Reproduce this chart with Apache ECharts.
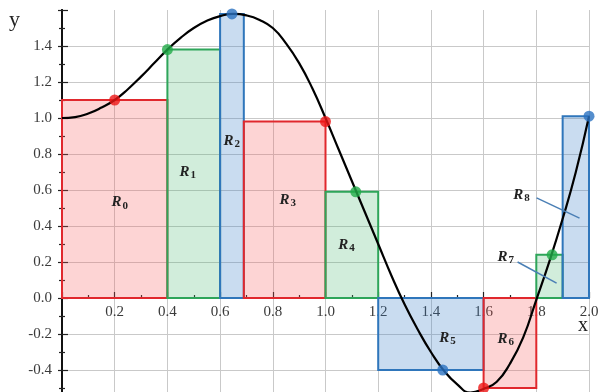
<!DOCTYPE html>
<html>
<head>
<meta charset="utf-8">
<script src="https://cdn.jsdelivr.net/npm/echarts@6/dist/echarts.min.js"></script>
<style>
  html, body { margin: 0; padding: 0; background: #ffffff; }
  #chart { width: 598px; height: 392px; }
</style>
</head>
<body>
<div id="chart"></div>
<script>
// Curve y = f(x), sampled along the interval [0, 2]
const curveX = [0.00, 0.05, 0.10, 0.15, 0.20, 0.25, 0.30, 0.35, 0.40, 0.45,
                0.50, 0.55, 0.60, 0.65, 0.70, 0.75, 0.80, 0.85, 0.90, 0.95,
                1.00, 1.05, 1.10, 1.15, 1.20, 1.25, 1.30, 1.35, 1.40, 1.45,
                1.50, 1.55, 1.60, 1.65, 1.70, 1.75, 1.80, 1.85, 1.90, 1.95, 2.00];
const curveY = [1.000, 1.005, 1.025, 1.058, 1.100, 1.160, 1.230, 1.305, 1.380, 1.445,
                1.500, 1.540, 1.566, 1.578, 1.570, 1.545, 1.500, 1.415, 1.305, 1.165,
                1.000, 0.825, 0.650, 0.475, 0.300, 0.125, -0.035, -0.175, -0.300, -0.405,
                -0.480, -0.525, -0.505, -0.465, -0.365, -0.220, -0.010, 0.205, 0.440, 0.700, 1.010];

// Partition of [0, 2] into nine sub-intervals
const partitionEdges = [0, 0.4, 0.6, 0.69, 1.0, 1.2, 1.6, 1.8, 1.9, 2.0];
// Sample point chosen in each sub-interval and f at that point
const sampleX = [0.20, 0.40, 0.645, 1.00, 1.115, 1.445, 1.60, 1.86, 2.00];
const sampleY = [1.10, 1.38, 1.578, 0.98, 0.59, -0.40, -0.50, 0.24, 1.01];
const rectIndex = ['0', '1', '2', '3', '4', '5', '6', '7', '8'];

// Axis tick labels
const xTickLabels = ['0.2', '0.4', '0.6', '0.8', '1.0', '1.2', '1.4', '1.6', '1.8', '2.0'];
const yTickLabels = ['-0.4', '-0.2', '0.0', '0.2', '0.4', '0.6', '0.8', '1.0', '1.2', '1.4'];

// Styling
const palette = [
  { stroke: '#e0282d', fill: 'rgba(248,90,90,0.26)', dot: '#ee1515' },
  { stroke: '#2ea55a', fill: 'rgba(70,185,110,0.25)', dot: '#22ab48' },
  { stroke: '#2f76bb', fill: 'rgba(60,130,200,0.28)', dot: '#2a72c0' }
];
// Where each R_i label sits (data coordinates)
const labelAnchors = [
  [0.219, 0.53], [0.477, 0.70], [0.644, 0.872], [0.857, 0.545], [1.08, 0.295],
  [1.463, -0.222], [1.684, -0.228], [1.684, 0.228], [1.744, 0.572]
];
// Pointer arrows for the two narrow rectangles
const arrowLines = [
  [[1.729, 0.20], [1.877, 0.083]],
  [[1.801, 0.556], [1.964, 0.444]]
];

const serif = '"Liberation Serif", "DejaVu Serif", serif';

const rectData = sampleY.map((h, i) => [partitionEdges[i], partitionEdges[i + 1], h, i]);
const curveData = curveX.map((x, i) => [x, curveY[i]]);
const pointData = sampleX.map((x, i) => ({
  value: [x, sampleY[i]],
  itemStyle: { color: palette[i % 3].dot }
}));
const labelData = labelAnchors.map((p, i) => [p[0], p[1], i]);

const chart = echarts.init(document.getElementById('chart'), null, { renderer: 'canvas' });

const gridBox = { left: 62, right: 9, top: 10, bottom: -14 };

const yAxisBase = {
  type: 'value',
  min: -0.6,
  max: 1.6,
  interval: 0.2,
  position: 'left',
  axisLine: { show: true, onZero: false, lineStyle: { color: '#111', width: 2 } }
};

chart.setOption({
  animation: false,
  backgroundColor: '#ffffff',
  grid: Object.assign({ containLabel: false, outerBoundsMode: 'none' }, gridBox),
  xAxis: {
    type: 'value',
    min: 0,
    max: 2.0,
    interval: 0.2,
    position: 'bottom',
    offset: 0,
    axisLine: { show: true, onZero: false, lineStyle: { color: '#111', width: 2 } },
    axisTick: { show: true, inside: true, length: 6, lineStyle: { color: '#222', width: 1.2 } },
    minorTick: { show: true, splitNumber: 2, length: 3, lineStyle: { color: '#222', width: 1.2 } },
    axisLabel: {
      show: true,
      margin: 7,
      color: '#3a3a3a',
      fontFamily: serif,
      fontSize: 15,
      showMinLabel: false,
      formatter: v => {
        const s = v.toFixed(1);
        return xTickLabels.indexOf(s) >= 0 ? s : '';
      }
    },
    splitLine: { show: true, showMinLine: false, lineStyle: { color: '#c9c9c9', width: 1 } }
  },
  yAxis: [
    Object.assign({}, yAxisBase, {
      axisTick: { show: true, length: 4, lineStyle: { color: '#222', width: 1.2 } },
      minorTick: { show: true, splitNumber: 2, length: 3, lineStyle: { color: '#222', width: 1.2 } },
      axisLabel: {
        show: true,
        margin: 10,
        color: '#3a3a3a',
        fontFamily: serif,
        fontSize: 15,
        showMaxLabel: false,
        formatter: v => {
          const s = (Math.abs(v) < 1e-9 ? 0 : v).toFixed(1);
          return yTickLabels.indexOf(s) >= 0 ? s : '';
        }
      },
      splitLine: { show: true, showMaxLine: false, lineStyle: { color: '#c9c9c9', width: 1 } }
    }),
    Object.assign({}, yAxisBase, {
      axisTick: { show: true, inside: true, length: 6, lineStyle: { color: '#222', width: 1.2 } },
      minorTick: { show: true, splitNumber: 2, length: 3, lineStyle: { color: '#222', width: 1.2 } },
      axisLabel: { show: false },
      splitLine: { show: false }
    })
  ],
  graphic: [
    { type: 'text', left: 9, top: 9, style: { text: 'y', font: '22px ' + serif, fill: '#222' } },
    { type: 'text', left: 578, top: 316, style: { text: 'x', font: '20px ' + serif, fill: '#222' } }
  ],
  series: [
    {
      // Riemann-sum rectangles
      type: 'custom',
      z: 2,
      xAxisIndex: 0,
      yAxisIndex: 0,
      encode: { x: [0, 1], y: 2 },
      data: rectData,
      renderItem: (params, api) => {
        const x0 = api.value(0), x1 = api.value(1), h = api.value(2);
        const c = palette[api.value(3) % 3];
        const a = api.coord([x0, 0]);
        const b = api.coord([x1, h]);
        return {
          type: 'rect',
          shape: {
            x: Math.min(a[0], b[0]),
            y: Math.min(a[1], b[1]),
            width: Math.abs(b[0] - a[0]),
            height: Math.abs(b[1] - a[1])
          },
          style: { fill: c.fill, stroke: c.stroke, lineWidth: 2 }
        };
      }
    },
    {
      // the function curve
      type: 'line',
      z: 3,
      data: curveData,
      smooth: true,
      showSymbol: false,
      symbol: 'none',
      lineStyle: { color: '#000', width: 2.2 },
      markLine: {
        silent: true,
        symbol: ['none', 'arrow'],
        symbolSize: [0, 9],
        label: { show: false },
        lineStyle: { color: '#4a7fb5', width: 1.5, type: 'solid' },
        data: arrowLines.map(l => [{ coord: l[0] }, { coord: l[1] }])
      }
    },
    {
      // sample points on the curve
      type: 'scatter',
      z: 4,
      symbol: 'circle',
      symbolSize: 11,
      data: pointData
    },
    {
      // R_i labels
      type: 'custom',
      z: 5,
      encode: { x: 0, y: 1 },
      data: labelData,
      renderItem: (params, api) => {
        const p = api.coord([api.value(0), api.value(1)]);
        return {
          type: 'text',
          x: p[0],
          y: p[1],
          style: {
            text: '{r|R}{s|' + rectIndex[api.value(2)] + '}',
            align: 'center',
            verticalAlign: 'middle',
            rich: {
              r: { fontFamily: serif, fontSize: 15, fontWeight: 'bold', fontStyle: 'italic', fill: '#222', color: '#222' },
              s: { fontFamily: serif, fontSize: 11, fontWeight: 'bold', fill: '#222', color: '#222', padding: [7, 0, 0, 1] }
            }
          }
        };
      }
    }
  ]
});

// Lift the x axis from the grid's bottom edge up to the line y = 0
const zeroY = chart.convertToPixel({ yAxisIndex: 0 }, 0);
const gridBottomY = chart.getHeight() - gridBox.bottom;
chart.setOption({ xAxis: { offset: -(gridBottomY - zeroY) } });
</script>
</body>
</html>
